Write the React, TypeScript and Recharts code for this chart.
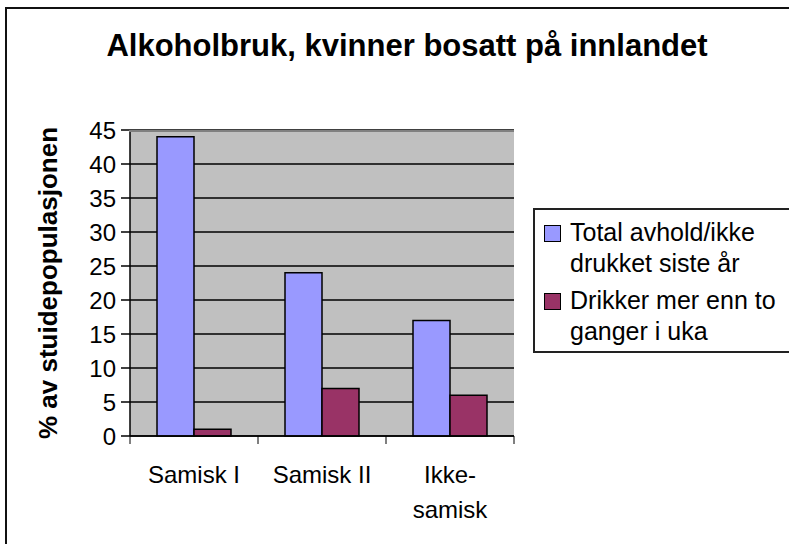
import React from 'react';
import {
  BarChart,
  Bar,
  XAxis,
  YAxis,
  CartesianGrid,
  Legend,
} from 'recharts';

const categories = ['Samisk I', 'Samisk II', 'Ikke-samisk'];
const abstainers = [44, 24, 17];
const heavyDrinkers = [1, 7, 6];
const seriesNames = ['Total avhold/ikke drukket siste år', 'Drikker mer enn to ganger i uka'];
const seriesColors = ['#9999FF', '#993366'];
const yTicks = [0, 5, 10, 15, 20, 25, 30, 35, 40, 45];
const chartTitle = 'Alkoholbruk, kvinner bosatt på innlandet';
const yAxisTitle = '% av stuidepopulasjonen';

const FONT = '"Liberation Sans", Arial, sans-serif';

const data = categories.map((category, i) => ({
  category,
  abst: abstainers[i],
  heavy: heavyDrinkers[i],
}));

// category labels sit between boundary tick marks, like the old Excel charts
function CategoryTick(props: any) {
  const { x, y, payload, index, visibleTicksCount } = props;
  const half = payload?.offset ?? 64;
  const lines = String(payload.value).replace(/-/g, '-\n').split('\n');
  const last = index === (visibleTicksCount ?? categories.length) - 1;
  return (
    <g>
      <line x1={x - half} y1={y} x2={x - half} y2={y + 8} stroke="#000" />
      {last && <line x1={x + half} y1={y} x2={x + half} y2={y + 8} stroke="#000" />}
      <text x={x} y={y + 47} textAnchor="middle" fontSize={24} fontFamily={FONT} fill="#000">
        {lines.map((l, i) => (
          <tspan key={i} x={x} dy={i === 0 ? 0 : 35}>
            {l}
          </tspan>
        ))}
      </text>
    </g>
  );
}

function YAxisTitle(props: any) {
  const vb = props.viewBox || { x: 0, y: 130, width: 130, height: 306 };
  const bx = vb.x + 57;
  const cy = vb.y + vb.height / 2;
  return (
    <text
      x={bx}
      y={cy}
      transform={`rotate(-90, ${bx}, ${cy})`}
      textAnchor="middle"
      fontSize={26}
      fontWeight="bold"
      fontFamily={FONT}
      fill="#000"
    >
      {props.text}
    </text>
  );
}

function LegendBox(props: any) {
  const payload = [...(props.payload || [])].sort(
    (a: any, b: any) => seriesNames.indexOf(a.value) - seriesNames.indexOf(b.value)
  );
  return (
    <div
      style={{
        border: '2px solid #222',
        boxSizing: 'border-box',
        height: 145,
        padding: '7px 0 0 9px',
        fontFamily: FONT,
        fontSize: 25,
        lineHeight: '31px',
        color: '#000',
      }}
    >
      {payload.map((p: any, i: number) => (
        <div key={i} style={{ display: 'flex', marginTop: i === 0 ? 0 : 6 }}>
          <div
            style={{
              width: 15,
              height: 15,
              marginTop: 8,
              marginRight: 9,
              flex: 'none',
              background: p.color,
              border: '1px solid #000',
            }}
          />
          <div style={{ width: 215 }}>{p.value}</div>
        </div>
      ))}
    </div>
  );
}

export default function App() {
  return (
    <div
      style={{
        position: 'absolute',
        left: 0,
        top: 0,
        width: 789,
        height: 544,
        overflow: 'hidden',
        background: '#fff',
      }}
    >
      <div
        style={{
          position: 'absolute',
          left: 5,
          top: 7,
          width: 900,
          height: 700,
          border: '2px solid #111',
        }}
      />
      <div
        style={{
          position: 'absolute',
          left: 0,
          top: 30,
          width: 814,
          textAlign: 'center',
          fontFamily: FONT,
          fontWeight: 'bold',
          fontSize: 31,
          lineHeight: '31px',
          color: '#000',
        }}
      >
        {chartTitle}
      </div>
      <BarChart
        width={789}
        height={544}
        data={data}
        margin={{ top: 130, right: 275, bottom: 0, left: 0 }}
        barCategoryGap={27}
        barGap={0}
        style={{ position: 'absolute', left: 0, top: 0 }}
      >
        <CartesianGrid
          vertical={false}
          stroke="#000"
          strokeOpacity={1}
          strokeWidth={1.5}
          fill="#C0C0C0"
          fillOpacity={1}
        />
        <XAxis
          dataKey="category"
          height={108}
          tickSize={0}
          tickMargin={0}
          tickLine={false}
          axisLine={{ stroke: '#000', strokeWidth: 1.5 }}
          tick={<CategoryTick />}
          interval={0}
        />
        <YAxis
          width={130}
          domain={[0, 45]}
          ticks={yTicks}
          interval={0}
          tickSize={9}
          tickMargin={5}
          axisLine={{ stroke: '#000', strokeWidth: 1.5 }}
          tickLine={{ stroke: '#000', strokeWidth: 1.5 }}
          tick={{ fill: '#000', fontSize: 24, fontFamily: FONT }}
          label={<YAxisTitle text={yAxisTitle} />}
        />
        <YAxis
          yAxisId="frame"
          orientation="right"
          width={0}
          domain={[0, 45]}
          tick={false}
          tickLine={false}
          axisLine={{ stroke: '#808080', strokeWidth: 2 }}
        />
        <Legend
          layout="horizontal"
          verticalAlign="middle"
          align="center"
          wrapperStyle={{ left: 533, top: 208, width: 300, height: 145 }}
          content={<LegendBox />}
        />
        <Bar
          dataKey="abst"
          name={seriesNames[0]}
          fill={seriesColors[0]}
          stroke="#000"
          strokeWidth={1.5}
          isAnimationActive={false}
        />
        <Bar
          dataKey="heavy"
          name={seriesNames[1]}
          fill={seriesColors[1]}
          stroke="#000"
          strokeWidth={1.5}
          isAnimationActive={false}
        />
      </BarChart>
      <div
        style={{
          position: 'absolute',
          left: 129,
          top: 130,
          width: 385,
          height: 0,
          borderTop: '2px solid #808080',
        }}
      />
    </div>
  );
}
